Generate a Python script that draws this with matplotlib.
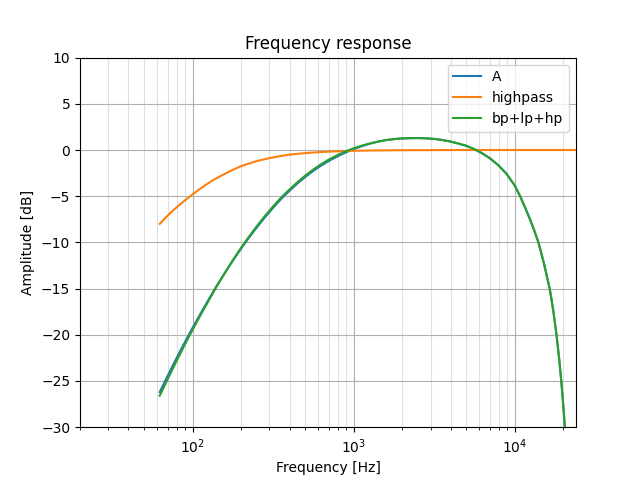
import numpy as np
import matplotlib
matplotlib.use('Agg')
import matplotlib.pyplot as plt

# frequencies [Hz] and amplitudes [dB]
freq = [62.5, 70.8, 79.4, 89.1, 100, 112.2, 125.9, 141.3, 158.5, 177.8, 199.5, 223.9, 251.2,
        281.8, 316.2, 354.8, 398.1, 446.7, 501.2, 562.3, 631, 707.9, 794.3, 891.3, 1000,
        1122, 1259, 1413, 1585, 1778, 1995, 2239, 2512, 2818, 3162, 3548, 3981, 4467, 5012,
        5623, 6310, 7079, 7943, 8913, 10000, 10790, 11480, 12300, 13180, 14030, 15140,
        16480, 17380, 18160, 18840, 19410, 19950, 20450, 20890]

amp_a = [-26.2, -24.27, -22.54, -20.86, -19.24, -17.68, -16.17, -14.69, -13.31, -11.97,
         -10.7, -9.49, -8.35, -7.27, -6.25, -5.29, -4.44, -3.64, -2.91, -2.25, -1.66, -1.14,
         -0.68, -0.27, 0.1, 0.41, 0.68, 0.9, 1.07, 1.18, 1.25, 1.28, 1.29, 1.26, 1.2, 1.08,
         0.92, 0.7, 0.45, 0.08, -0.38, -0.95, -1.68, -2.6, -3.85, -5.0, -6.05, -7.3, -8.65,
         -10.0, -12.2, -15.0, -17.5, -20.0, -22.5, -24.85, -27.35, -29.95, -32.4]

amp_sum = [-26.6, -24.63, -22.86, -21.13, -19.46, -17.85, -16.29, -14.75, -13.31, -11.92,
           -10.61, -9.37, -8.21, -7.12, -6.1, -5.14, -4.29, -3.49, -2.76, -2.1, -1.51, -0.99,
           -0.54, -0.15, 0.19, 0.47, 0.71, 0.91, 1.07, 1.18, 1.25, 1.28, 1.29, 1.26, 1.2, 1.08,
           0.92, 0.7, 0.45, 0.08, -0.38, -0.95, -1.68, -2.6, -3.85, -5.0, -6.05, -7.3, -8.65,
           -10.0, -12.2, -15.0, -17.5, -20.0, -22.5, -24.85, -27.35, -29.95, -32.4]

freq_hp = [62.5, 66, 70, 75, 80, 90, 100, 110, 120, 135, 150, 175, 200, 225, 250, 300, 350,
           400, 500, 600, 700, 850, 1000, 1500, 2000, 3000, 5000, 24000]
amp_hp = [-8.0, -7.56, -7.1, -6.6, -6.17, -5.42, -4.8, -4.26, -3.8, -3.23, -2.8, -2.2, -1.75,
          -1.45, -1.2, -0.88, -0.66, -0.5, -0.33, -0.24, -0.18, -0.12, -0.08, -0.04, -0.02,
          -0.01, 0.0, 0.0]

fig, ax = plt.subplots(figsize=(6.4, 4.8), dpi=100)
ax.semilogx(freq, amp_a, label='A')
ax.semilogx(freq_hp, amp_hp, label='highpass')
ax.semilogx(freq, amp_sum, label='bp+lp+hp')
ax.set_title('Frequency response')
ax.set_xlabel('Frequency [Hz]')
ax.set_ylabel('Amplitude [dB]')
ax.set_xlim(20, 24000)
ax.set_ylim(-30, 10)
ax.grid(which='major')
ax.grid(which='minor', alpha=0.4)
ax.legend(loc='upper right')
fig.savefig('out.png')
